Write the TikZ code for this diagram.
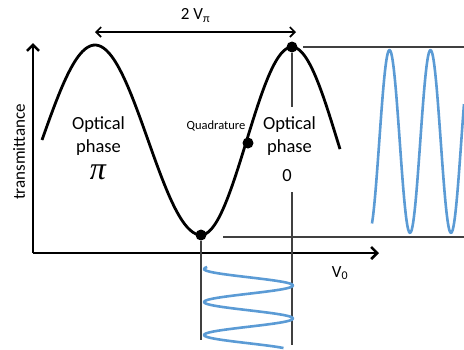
\documentclass[tikz,border=0pt]{standalone}
\usepackage{fontspec}
\setmainfont{Carlito}
\newfontfamily\pifont{Liberation Serif}
\usetikzlibrary{arrows.meta,positioning}

\definecolor{wavecol}{HTML}{5B9BD5}
\definecolor{guidecol}{HTML}{404040}

\tikzset{
  axis/.style={line width=2.6pt, -{Straight Barb[length=6pt,width=12pt]}},
  curve/.style={line width=2.8pt, line join=round},
  guide/.style={draw=guidecol, line width=1.4pt},
  wave/.style={draw=wavecol, line width=2.6pt, line join=round},
  dot/.style={circle, fill=black, inner sep=0pt, minimum size=11pt},
  lbl/.style={font=\fontsize{17}{22}\selectfont, align=center, inner sep=0pt},
  biglbl/.style={font=\fontsize{18.5}{23}\selectfont, align=center, inner sep=0pt},
  smalllbl/.style={font=\fontsize{12.5}{14}\selectfont, inner sep=0pt}
}

\begin{document}
\begin{tikzpicture}[x=1pt, y=-1pt]
    \useasboundingbox (0,0) rectangle (464,349);

    % Axes
    \coordinate (O) at (33,253);
    \coordinate (ytop) at (33,43);
    \coordinate (xend) at (379,253);
    \draw[axis] (O) -- (ytop);
    \draw[axis] (O) -- (xend);
    \node[lbl, rotate=90] (tlab) at (19,152) {transmittance};
    \node[lbl] (vlab) at (340,273) {V\textsubscript{0}};

    % Transfer function
    \draw[curve] plot[smooth, domain=42:201, samples=60]
        (\x, {140-95*cos((\x-95)/106*180)})
        -- plot[smooth, domain=201:340, samples=60]
        (\x, {141-94*cos((\x-292)/91*180)});

    % Working points
    \node[dot] (peak) at (292,47) {};
    \node[dot] (quad) at (248,143) {};
    \node[dot] (trough) at (201,235) {};

    % 2 V_pi span
    \coordinate (spanL) at (95,32);
    \coordinate (spanR) at (296,32);
    \draw[line width=1.6pt, {Straight Barb[length=5pt,width=10pt]}-{Straight Barb[length=5pt,width=10pt]}]
        (spanL) -- node[lbl, above=9pt] (span) {2 V\textsubscript{π}} (spanR);

    % Labels
    \node[biglbl] (ophL) at (98.5,136) {Optical\\phase};
    \node[font=\fontsize{32}{32}\selectfont\pifont\itshape, inner sep=0pt] (piL) at (98,172) {π};
    \node[biglbl] (ophR) at (289.5,136) {Optical\\phase};
    \node[biglbl] (zeroR) at (287,176) {0};
    \node[smalllbl] (quadlbl) at (216,126) {Quadrature};

    % Guide lines
    \coordinate (peakR) at (303,47);
    \coordinate (edgeT) at (464,47);
    \coordinate (peakA) at (292,107);
    \coordinate (peakB) at (292,192);
    \coordinate (peakC) at (292,345);
    \coordinate (troughB) at (201,340);
    \coordinate (troughR) at (223,237);
    \coordinate (edgeB) at (464,237);
    \draw[guide] (peakR) -- (edgeT);
    \draw[guide] (peak) -- (peakA);
    \draw[guide] (peakB) -- (peakC);
    \draw[guide] (trough) -- (troughB);
    \draw[guide] (troughR) -- (edgeB);

    % Output signals
    \draw[wave] plot[smooth, domain=372:464, samples=90]
        (\x, {141.5-91.5*cos((\x-389.5)/41*360)});
    \draw[wave] plot[smooth, domain=267:348, samples=90]
        ({248.5-44.5*cos((\x-269)/16.5*180)}, \x);
\end{tikzpicture}
\end{document}
